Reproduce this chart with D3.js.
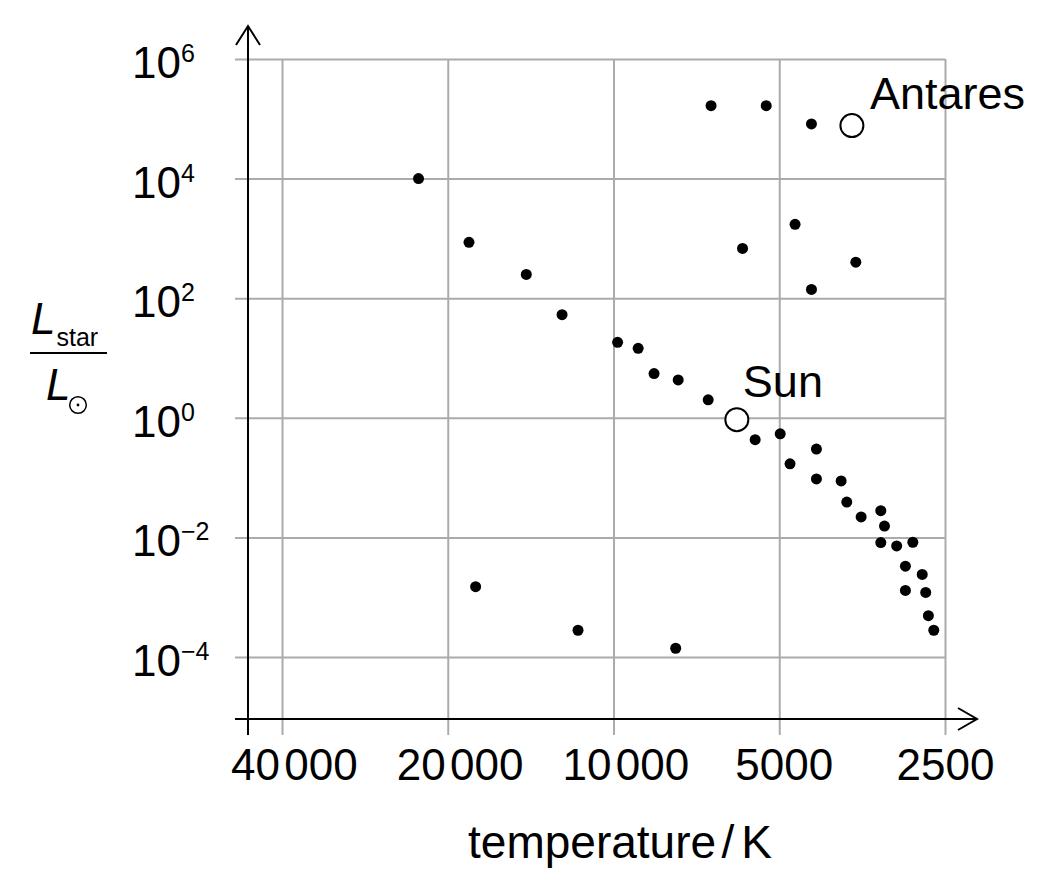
<!DOCTYPE html>
<html>
<head>
<meta charset="utf-8">
<script src="https://cdn.jsdelivr.net/npm/d3@7"></script>
<style>
  body { margin: 0; background: #fff; }
  svg { display: block; font-family: "Liberation Sans", Arial, sans-serif; }
</style>
</head>
<body>
<svg id="chart" width="1051" height="892"></svg>
<script>
// tick values
const xTicks = [40000, 20000, 10000, 5000, 2500];
const yTicks = [1e6, 1e4, 1e2, 1, 1e-2, 1e-4];

// ordinary stars: temperature (K) and luminosity (L / L_sun)
const starTemps = [
  6650, 5280, 4370, 4680, 5830, 3630, 4370,
  22600, 18300, 14400, 12400, 9830, 9020, 8440, 7630, 6730,
  5530, 4980, 4780, 4280, 4280, 3860, 3770, 3550, 3270, 3220,
  3270, 3060, 2860, 2950, 2750, 2950, 2710, 2680, 2620,
  17800, 11600, 7710
];
const starLums = [
  1.66e5, 1.66e5, 8.2e4, 1720, 680, 400, 140,
  1.0e4, 860, 250, 53, 18.3, 14.5, 5.5, 4.3, 2.0,
  0.43, 0.54, 0.17, 0.30, 0.095, 0.088, 0.039, 0.022, 0.028, 0.0155,
  0.0082, 0.0072, 0.0083, 0.0033, 0.0024, 0.0013, 0.0012, 0.00049, 0.00028,
  0.0015, 0.00028, 0.00014
];

// named stars
const namedStars = ['Antares', 'Sun'];
const namedTemps = [3690, 5970];
const namedLums = [7.7e4, 0.93];

// layout
const plot = { left: 282, right: 945, top: 59, bottom: 657 };
const axisX = 248, axisY = 719;
const gridLeft = 235, gridBottom = 735;
const bigFont = 44, labelFont = 45, titleFont = 46, supFont = 25;

const svg = d3.select('#chart');

const x = d3.scaleLog().domain([40000, 2500]).range([plot.left, plot.right]);
const y = d3.scaleLog().domain([1e-4, 1e6]).range([plot.bottom, plot.top]);

// vertical grid lines + temperature labels
const xAxis = d3.axisBottom(x)
  .tickValues(xTicks)
  .tickSize(-(gridBottom - plot.top))
  .tickPadding(14)
  .tickFormat(() => '');

const gx = svg.append('g')
  .attr('transform', 'translate(0,' + gridBottom + ')')
  .call(xAxis);
gx.select('.domain').remove();
gx.selectAll('.tick line').attr('stroke', '#ababab').attr('stroke-width', 2);
gx.selectAll('.tick text')
  .attr('font-size', bigFont)
  .attr('fill', '#000')
  .attr('font-family', '"Liberation Sans", Arial, sans-serif')
  .attr('dx', d => d >= 10000 ? '0.27em' : d >= 5000 ? '0.1em' : '0')
  .each(function(d) {
    const t = d3.select(this);
    if (d >= 10000) {
      const s = String(d);
      t.append('tspan').text(s.slice(0, s.length - 3));
      t.append('tspan').attr('dx', '0.1em').text(s.slice(-3));
    } else {
      t.text(String(d));
    }
  });

// horizontal grid lines
const yAxis = d3.axisLeft(y)
  .tickValues(yTicks)
  .tickSize(-(plot.right - gridLeft))
  .tickFormat(() => '');

const gy = svg.append('g')
  .attr('transform', 'translate(' + gridLeft + ',0)')
  .call(yAxis);
gy.select('.domain').remove();
gy.selectAll('.tick line').attr('stroke', '#ababab').attr('stroke-width', 2);
gy.selectAll('.tick text').remove();

// luminosity labels as powers of ten
const yLabels = svg.append('g')
  .selectAll('text')
  .data(yTicks)
  .join('text')
  .attr('x', 132)
  .attr('y', d => y(d) + 19)
  .attr('font-size', bigFont)
  .attr('fill', '#000');
yLabels.append('tspan').text('10');
yLabels.append('tspan')
  .attr('font-size', supFont)
  .attr('dy', -16)
  .text(d => {
    const e = Math.round(Math.log10(d));
    return e < 0 ? '\u2212' + (-e) : String(e);
  });

// axes with arrow heads
const axes = svg.append('g')
  .attr('stroke', '#000')
  .attr('stroke-width', 2)
  .attr('fill', 'none');
axes.append('line')
  .attr('x1', gridLeft).attr('y1', axisY)
  .attr('x2', 977).attr('y2', axisY);
axes.append('polyline')
  .attr('points', [[958, axisY - 11], [977, axisY], [958, axisY + 11]].join(' '));
axes.append('line')
  .attr('x1', axisX).attr('y1', gridBottom)
  .attr('x2', axisX).attr('y2', 26);
axes.append('polyline')
  .attr('points', [[axisX - 12, 45], [axisX, 26], [axisX + 12, 45]].join(' '));

// stars
svg.append('g')
  .selectAll('circle')
  .data(starTemps.map((t, i) => ({ t: t, l: starLums[i] })))
  .join('circle')
  .attr('cx', d => x(d.t))
  .attr('cy', d => y(d.l))
  .attr('r', 5.5)
  .attr('fill', '#000');

// named stars, drawn as open circles with a label
const labelOffset = { Antares: [18, -17], Sun: [6, -23] };
const named = svg.append('g')
  .selectAll('g')
  .data(namedStars.map((n, i) => ({ n: n, t: namedTemps[i], l: namedLums[i] })))
  .join('g')
  .attr('transform', d => 'translate(' + x(d.t) + ',' + y(d.l) + ')');
named.append('circle')
  .attr('r', 11.5)
  .attr('fill', '#fff')
  .attr('stroke', '#000')
  .attr('stroke-width', 2);
named.append('text')
  .attr('x', d => labelOffset[d.n][0])
  .attr('y', d => labelOffset[d.n][1])
  .attr('font-size', labelFont)
  .attr('fill', '#000')
  .text(d => d.n);

// x axis title
const xt = svg.append('text')
  .attr('x', 620)
  .attr('y', 858)
  .attr('text-anchor', 'middle')
  .attr('font-size', titleFont)
  .attr('fill', '#000');
xt.append('tspan').text('temperature');
xt.append('tspan').attr('dx', '0.12em').text('/');
xt.append('tspan').attr('dx', '0.15em').text('K');

// y axis title: L_star / L_sun
const yt = svg.append('g');
const num = yt.append('text').attr('x', 31).attr('y', 334).attr('fill', '#000');
num.append('tspan').attr('font-size', bigFont).attr('font-style', 'italic').text('L');
num.append('tspan').attr('font-size', supFont).attr('dx', 1).attr('dy', 12).text('star');
yt.append('line')
  .attr('x1', 30).attr('x2', 107)
  .attr('y1', 353).attr('y2', 353)
  .attr('stroke', '#000').attr('stroke-width', 2);
yt.append('text')
  .attr('x', 46).attr('y', 400)
  .attr('font-size', bigFont)
  .attr('font-style', 'italic')
  .attr('fill', '#000')
  .text('L');
yt.append('circle')
  .attr('cx', 78).attr('cy', 405).attr('r', 8.3)
  .attr('fill', 'none').attr('stroke', '#000').attr('stroke-width', 1.5);
yt.append('circle')
  .attr('cx', 78).attr('cy', 405).attr('r', 1.4)
  .attr('fill', '#000');
</script>
</body>
</html>
